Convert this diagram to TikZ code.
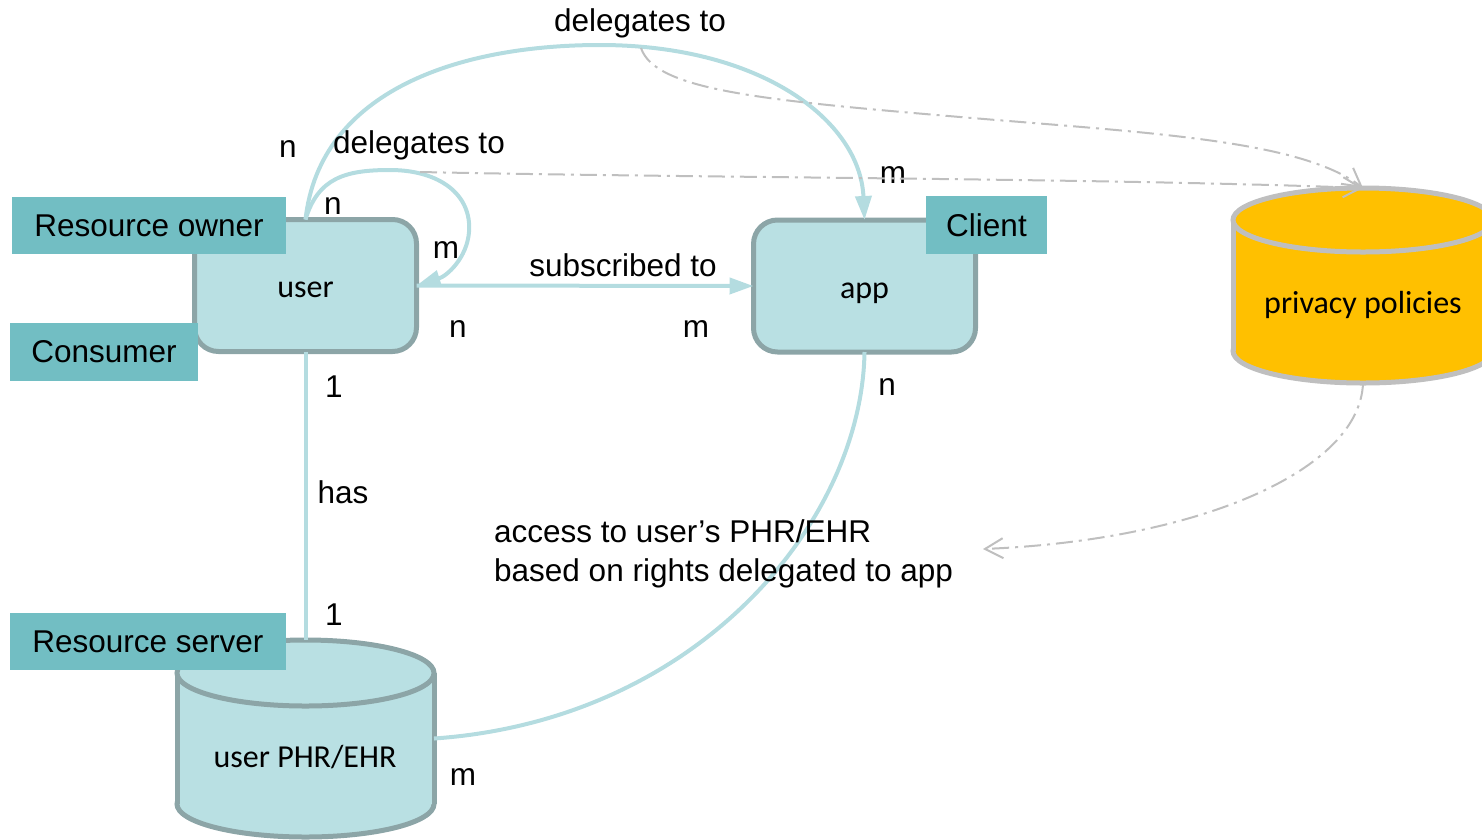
\documentclass[tikz,border=0pt]{standalone}
\usepackage{fontspec}
\setmainfont{Liberation Sans}
\newfontfamily\boxfont{Carlito}
\usetikzlibrary{arrows.meta}

\definecolor{boxfill}{HTML}{B9E0E3}
\definecolor{boxedge}{HTML}{8CA5A7}
\definecolor{rolefill}{HTML}{72BEC3}
\definecolor{linkcol}{HTML}{B4DCE0}
\definecolor{dashcol}{HTML}{BFBFBF}
\definecolor{policyfill}{HTML}{FFC000}

\begin{document}
\begin{tikzpicture}[x=1pt,y=-1pt,
  entity/.style={draw=boxedge, fill=boxfill, line width=5pt, rounded corners=24pt,
    minimum width=222pt, minimum height=132pt, outer sep=0pt},
  boxtext/.style={inner sep=0pt, anchor=base, font=\boxfont\fontsize{32}{38}\selectfont},
  area/.style={inner sep=0pt, outer sep=0pt},
  role/.style={fill=rolefill, inner sep=0pt, outer sep=0pt, font=\fontsize{31.5}{37}\selectfont},
  lbl/.style={inner sep=0pt, font=\fontsize{31.5}{37}\selectfont},
  rel/.style={draw=linkcol, line width=4pt},
  relarrow/.style={rel, -{Triangle[length=24pt,width=16pt]}},
  policy/.style={draw=dashcol, line width=2pt, dash pattern=on 17pt off 6pt on 3pt off 6pt,
    -{Straight Barb[length=18pt,width=20pt]}}
]
\useasboundingbox (0,0) rectangle (1482,839);

% entities
\node[entity] (user) at (305.5,285.5) {};
\node[entity] (app) at (864.5,286) {};

% user PHR/EHR store
\filldraw[fill=boxfill, draw=boxedge, line width=5pt] (305.5,804) ellipse [x radius=128.5, y radius=33];
\fill[boxfill] (177,673) rectangle (434,804);
\draw[boxedge, line width=5pt] (177,673) -- (177,804) (434,673) -- (434,804);
\filldraw[fill=boxfill, draw=boxedge, line width=5pt] (305.5,673) ellipse [x radius=128.5, y radius=33];
\node[area, minimum width=257pt, minimum height=197pt] (phr) at (305.5,738.5) {};

% privacy policies store
\filldraw[fill=policyfill, draw=dashcol, line width=5pt] (1363,351) ellipse [x radius=130, y radius=32];
\fill[policyfill] (1233,220) rectangle (1493,351);
\draw[dashcol, line width=5pt] (1233,220) -- (1233,351) (1493,220) -- (1493,351);
\filldraw[fill=policyfill, draw=dashcol, line width=5pt] (1363,220) ellipse [x radius=130, y radius=32];
\node[area, minimum width=260pt, minimum height=195pt] (pp) at (1363,285.5) {};

% relationships
\draw[relarrow] (user.north) .. controls (320,90) and (460,45) .. (600,45)
  .. controls (760,45) and (860,120) .. (app.north);
\draw[relarrow] (user.north) .. controls (318,178) and (345,170) .. (390,170)
  .. controls (440,170) and (472,195) .. (469,232)
  .. controls (467,258) and (447,276) .. (user.east);
\draw[relarrow] (user.east) -- (app.west);
\draw[rel] (user.south) -- (phr.north);
\draw[rel] (app.south) .. controls (862,520) and (700,720) .. (phr.east);

% text labels
\node[lbl] (deltop) at (640,23) {delegates to};
\node[lbl] (delself) at (419,145) {delegates to};
\node[lbl] (subs) at (623,265) {subscribed to};
\node[lbl] (has) at (343,492) {has};
\node[lbl, align=left, anchor=west, font=\fontsize{31.5}{39}\selectfont] (access) at (494,554)
  {access to user’s PHR/EHR\\based on rights delegated to app};

\node[lbl] (c1) at (288,149) {n};
\node[lbl] (c2) at (333,206) {n};
\node[lbl] (c3) at (446,250) {m};
\node[lbl] (c4) at (458,329) {n};
\node[lbl] (c5) at (696,329) {m};
\node[lbl] (c6) at (893,175) {m};
\node[lbl] (c7) at (887,387) {n};
\node[lbl] (c8) at (334,387) {1};
\node[lbl] (c9) at (334,615) {1};
\node[lbl] (c10) at (463,777) {m};

% policy references
\coordinate (d1s) at (641,48);
\coordinate (d2s) at (420,172);
\coordinate (d3e) at (983,549);
\draw[policy] (d1s) .. controls (655,90) and (760,100) .. (960,117)
  .. controls (1150,133) and (1300,140) .. (pp.north);
\draw[policy] (d2s) .. controls (700,178) and (1100,178) .. (pp.north);
\draw[policy] (pp.south) .. controls (1360,470) and (1200,540) .. (d3e);

% box texts
\node[boxtext] (usertxt) at (305.5,297) {user};
\node[boxtext] (apptxt) at (864.5,298) {app};
\node[boxtext] (pptxt) at (1363,313) {privacy policies};
\node[boxtext] (phrtxt) at (305,767) {user PHR/EHR};

% roles
\node[role, minimum width=274pt, minimum height=57pt] (owner) at (149,225.5) {Resource owner};
\node[role, minimum width=188pt, minimum height=58pt] (consumer) at (104,352) {Consumer};
\node[role, minimum width=121pt, minimum height=58pt] (client) at (986.5,225) {Client};
\node[role, minimum width=276pt, minimum height=57pt] (server) at (148,641.5) {Resource server};
\end{tikzpicture}
\end{document}
